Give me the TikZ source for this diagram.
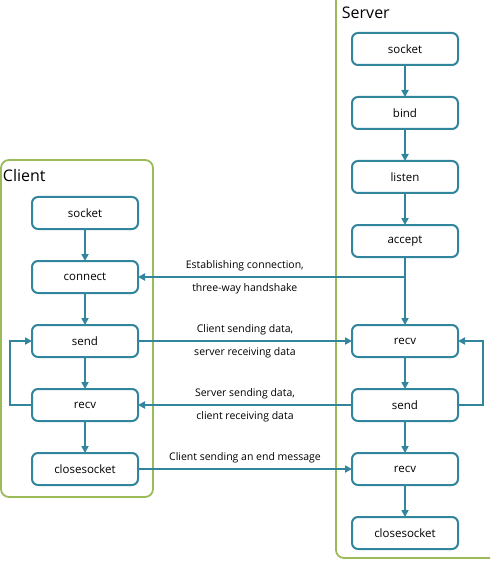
\documentclass[tikz,border=0pt]{standalone}
\usepackage{fontspec}
\setmainfont{Open Sans}
\usetikzlibrary{positioning, arrows.meta, calc}
\definecolor{boxteal}{HTML}{31859C}
\definecolor{framegreen}{HTML}{9BBB59}

\begin{document}
\begin{tikzpicture}[x=1pt, y=-1pt, ->, >={Triangle[length=7pt,width=7pt]}, node distance=32pt,
    line width=1.9pt, draw=boxteal, color=boxteal,
    stepbox/.style={draw=boxteal, line width=2pt, rounded corners=6pt, fill=white, text=black,
      minimum width=106pt, minimum height=32pt, outer sep=0pt, font=\fontsize{11.5}{13}\selectfont},
    msg/.style={text=black, font=\fontsize{10.5}{12}\selectfont, text height=8pt, text depth=2.5pt},
    frame/.style={draw=framegreen, line width=1.8pt, rounded corners=8pt, -},
    title/.style={text=black, font=\fontsize{16}{18}\selectfont, inner sep=1pt, anchor=west}]
      \clip (0,0) rectangle (490,561);

      % containers
      \draw[frame] (1,160) rectangle (153,497);
      \draw[frame] (336,-10) rectangle (500,558);
      \node[title] (clienttitle) at (1,176) {Client};
      \node[title] (servertitle) at (340,13) {Server};

      % client side
      \node[stepbox] (csocket) at (85,213) {socket};
      \node[stepbox] (cconnect) [below=of csocket] {connect};
      \node[stepbox] (csend) [below=of cconnect] {send};
      \node[stepbox] (crecv) [below=of csend] {recv};
      \node[stepbox] (cclose) [below=of crecv] {closesocket};

      % server side
      \node[stepbox] (ssocket) at (405,49) {socket};
      \node[stepbox] (sbind) [below=of ssocket] {bind};
      \node[stepbox] (slisten) [below=of sbind] {listen};
      \node[stepbox] (saccept) [below=of slisten] {accept};
      \node[stepbox] (srecv) [below=68pt of saccept] {recv};
      \node[stepbox] (ssend) [below=of srecv] {send};
      \node[stepbox] (srecvend) [below=of ssend] {recv};
      \node[stepbox] (sclose) [below=of srecvend] {closesocket};

      \path (csocket) edge (cconnect)
      (cconnect) edge (csend)
      (csend) edge (crecv)
      (crecv) edge (cclose)
      (ssocket) edge (sbind)
      (sbind) edge (slisten)
      (slisten) edge (saccept)
      (saccept) edge (srecv)
      (srecv) edge (ssend)
      (ssend) edge (srecvend)
      (srecvend) edge (sclose);

      % loops
      \draw (crecv.west) -- ++(-22,0) |- (csend.west);
      \draw (ssend.east) -- ++(25,0) |- (srecv.east);

      % messages
      \coordinate (hs) at (saccept |- cconnect);
      \draw (hs) -- node[msg, pos=0.6, above=1.5pt] {Establishing connection,}
        node[msg, pos=0.6, below=2.5pt] {three-way handshake} (cconnect);
      \draw (csend) -- node[msg, above=1.5pt] {Client sending data,}
        node[msg, below=2.5pt] {server receiving data} (srecv);
      \draw (ssend) -- node[msg, above=1.5pt] {Server sending data,}
        node[msg, below=2.5pt] {client receiving data} (crecv);
      \draw (cclose) -- node[msg, above=1.5pt] {Client sending an end message} (srecvend);
    \end{tikzpicture}
\end{document}
